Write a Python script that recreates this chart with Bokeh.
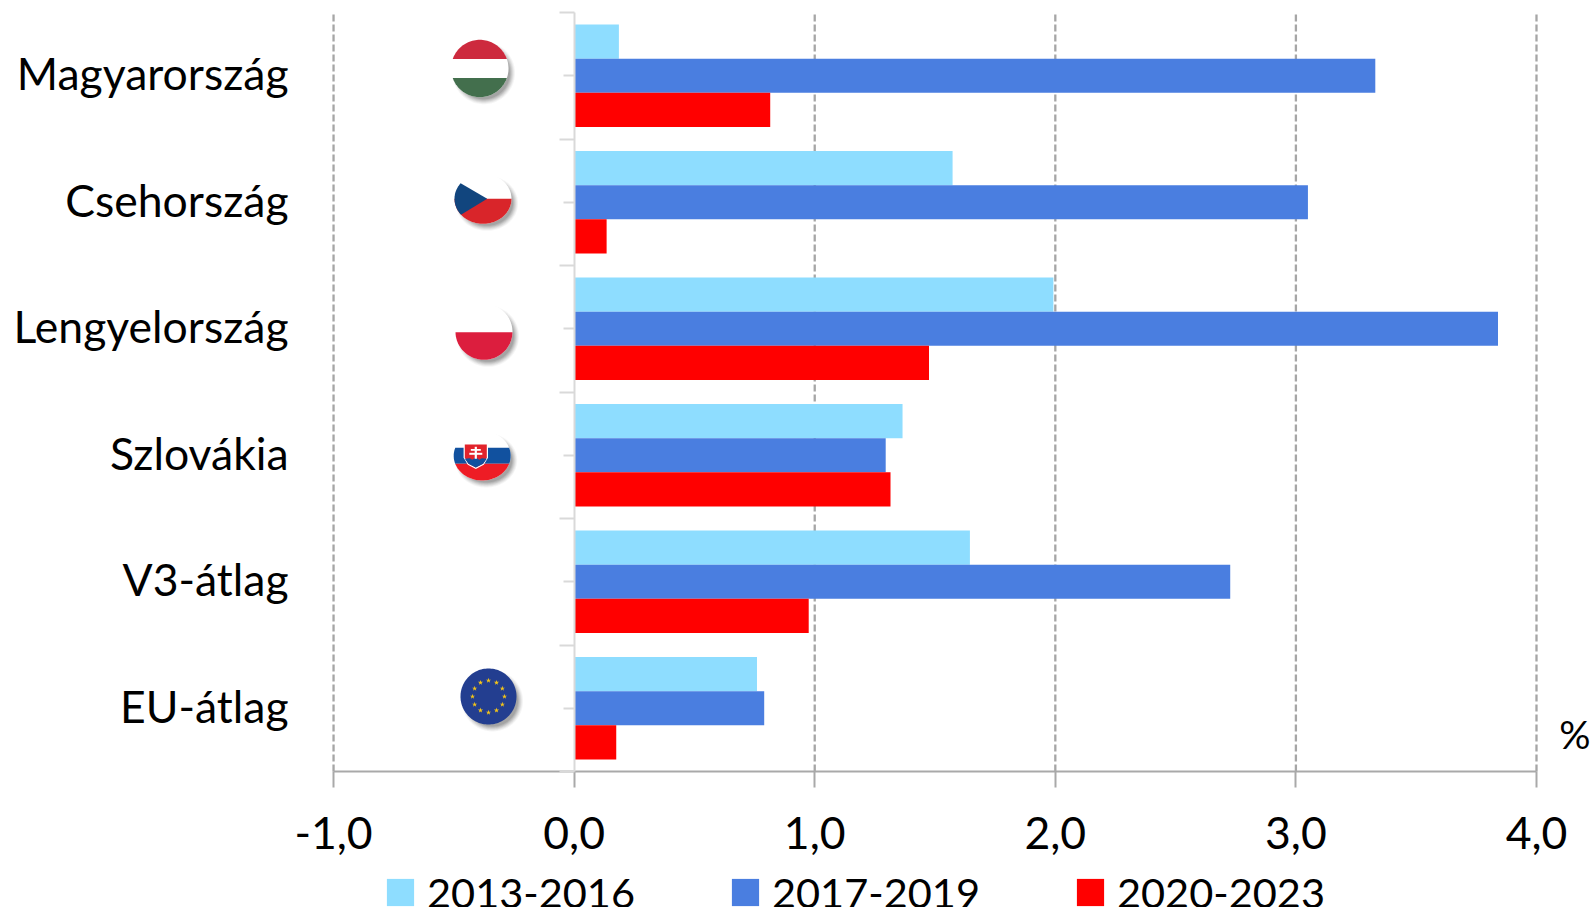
import numpy as np
from bokeh.embed import file_html
from bokeh.resources import INLINE
from bokeh.core.properties import value
from bokeh.models import (ColumnDataSource, FixedTicker, Label, Legend, LegendItem,
                          LinearAxis, Range1d)
from bokeh.plotting import figure

categories = ["Magyarország", "Csehország", "Lengyelország", "Szlovákia", "V3-átlag", "EU-átlag"]
s2013_2016 = [0.186, 1.573, 1.992, 1.365, 1.645, 0.76]
s2017_2019 = [3.33, 3.05, 3.84, 1.295, 2.727, 0.79]
s2020_2023 = [0.815, 0.135, 1.475, 1.315, 0.975, 0.175]
series_names = ["2013-2016", "2017-2019", "2020-2023"]
x_ticks = [-1, 0, 1, 2, 3, 4]
x_tick_labels = ["-1,0", "0,0", "1,0", "2,0", "3,0", "4,0"]
grid_ticks = [-1, 1, 2, 3, 4]

FONT = "Lato"
FS = "44.5px"
C_LIGHT, C_BLUE, C_RED = "#8EDDFF", "#4A7EE0", "#FF0000"
GREY, LIGHT_GREY = "#A9A9A9", "#D9D9D9"

n = len(categories)
centers = [n - 0.5 - i for i in range(n)]

# The frame fills the whole figure so that nothing outside the plot area is clipped.
UX, UY = 240.55, 126.5
p = figure(width=1594, height=907, output_backend="svg", toolbar_location=None,
           x_range=Range1d(-1 - 333 / UX, 4 + 58 / UX), y_range=Range1d(-136 / UY, n + 12 / UY),
           min_border_left=0, min_border_right=0, min_border_top=0, min_border_bottom=0,
           x_axis_location=None, y_axis_location=None,
           outline_line_color=None, background_fill_color="white", border_fill_color="white")
p.grid.visible = False
# page-pixel ranges for the decorative flags
p.extra_x_ranges = {"px": Range1d(0, 1594)}
p.extra_y_ranges = {"py": Range1d(907, 0)}

# dashed gridlines
p.segment(x0=grid_ticks, x1=grid_ticks, y0=[0] * len(grid_ticks), y1=[n] * len(grid_ticks),
          line_color="#A6A6A6", line_width=2.3, line_dash="7 3")

H = 0.27
src = ColumnDataSource(dict(y1=[c + H for c in centers], y2=centers, y3=[c - H for c in centers],
                            a=s2013_2016, b=s2017_2019, c=s2020_2023))
r1 = p.hbar(y="y1", left=0, right="a", height=H, source=src, fill_color=C_LIGHT, line_color=None)
r2 = p.hbar(y="y2", left=0, right="b", height=H, source=src, fill_color=C_BLUE, line_color=None)
r3 = p.hbar(y="y3", left=0, right="c", height=H, source=src, fill_color=C_RED, line_color=None)

# axes
xa = LinearAxis(fixed_location=0, bounds=(-1, 4), ticker=FixedTicker(ticks=x_ticks),
                major_label_overrides={t: l for t, l in zip(x_ticks, x_tick_labels)},
                major_label_text_font=FONT, major_label_text_font_size=FS, major_label_text_color="black",
                major_label_standoff=29, axis_line_color=GREY, axis_line_width=2,
                major_tick_line_color=GREY, major_tick_line_width=2, major_tick_in=0, major_tick_out=16,
                minor_tick_line_color=None)
p.add_layout(xa, "below")

# category names: an axis without line or ticks, fixed at the left end of the value range
label_ticks = [round(c + 3 / UY, 3) for c in centers]
ya = LinearAxis(fixed_location=-1, ticker=FixedTicker(ticks=label_ticks),
                major_label_overrides={c: l for c, l in zip(label_ticks, categories)},
                axis_line_color=None, major_tick_line_color=None, minor_tick_line_color=None,
                major_label_standoff=39, major_label_text_font=FONT, major_label_text_font_size=FS,
                major_label_text_color="black")
p.add_layout(ya, "left")

band_edges = list(range(n + 1))
ax0 = LinearAxis(fixed_location=0, bounds=(0, n),
                 ticker=FixedTicker(ticks=band_edges, minor_ticks=centers),
                 major_label_overrides={e: "" for e in band_edges},
                 axis_line_color=LIGHT_GREY, axis_line_width=2,
                 major_tick_line_color=LIGHT_GREY, major_tick_line_width=2, major_tick_in=0, major_tick_out=15,
                 minor_tick_line_color=LIGHT_GREY, minor_tick_line_width=2, minor_tick_in=0, minor_tick_out=11)
p.add_layout(ax0, "left")


# flags
def ellipse(cx, cy, rx, ry, k=120):
    t = np.linspace(0, 2 * np.pi, k, endpoint=False)
    return list(zip(cx + rx * np.cos(t), cy + ry * np.sin(t)))


def clip(poly, a, b, c):
    """Keep the part of poly where a*x + b*y <= c."""
    out = []
    for i, P in enumerate(poly):
        Q = poly[(i + 1) % len(poly)]
        dp, dq = a * P[0] + b * P[1] - c, a * Q[0] + b * Q[1] - c
        if dp <= 0:
            out.append(P)
        if dp * dq < 0:
            t = dp / (dp - dq)
            out.append((P[0] + t * (Q[0] - P[0]), P[1] + t * (Q[1] - P[1])))
    return out


def band(poly, y0, y1):
    return clip(clip(poly, 0, -1, -y0), 0, 1, y1)


def fill(poly, color):
    p.patch([q[0] for q in poly], [q[1] for q in poly], fill_color=color, line_color=None,
            x_range_name="px", y_range_name="py")


def shadow(cx, cy, rx, ry):
    for k, a in [(5.5, 0.05), (4.5, 0.07), (3.5, 0.09), (2.5, 0.11), (1.5, 0.13), (0.5, 0.15)]:
        fill_poly = ellipse(cx + 4, cy + 4.5, rx + k - 3, ry + k - 3)
        p.patch([q[0] for q in fill_poly], [q[1] for q in fill_poly], fill_color="#404040", fill_alpha=a,
                line_color=None, x_range_name="px", y_range_name="py")


# Hungary
cx, cy, rx, ry = 479.3, 68, 28.7, 28.7
shadow(cx, cy, rx, ry)
e = ellipse(cx, cy, rx, ry)
fill(e, "#FFFFFF")
fill(band(e, 0, 58.5), "#CD2A3E")
fill(band(e, 77.5, 200), "#436F4D")

# Czechia
cx, cy, rx, ry = 482.5, 198.3, 28.5, 25
shadow(cx, cy, rx, ry)
e = ellipse(cx, cy, rx, ry)
fill(e, "#FFFFFF")
fill(band(e, cy, 400), "#D9252A")
ax_, ay_ = 486.7, 198.3
# upper edge: apex to (460, 182.7); lower edge: apex to (460.7, 214)
tri = clip(e, 1, 0, ax_)
tri = clip(tri, 15.6, -26.7, 15.6 * ax_ - 26.7 * ay_)
tri = clip(tri, 15.7, 26.0, 15.7 * ax_ + 26.0 * ay_)
fill(tri, "#11457E")

# Poland
cx, cy, rx, ry = 483.5, 331.3, 28.5, 28
shadow(cx, cy, rx, ry)
e = ellipse(cx, cy, rx, ry)
fill(e, "#FFFFFF")
fill(band(e, 331.7, 500), "#DC1E3E")

# Slovakia
cx, cy, rx, ry = 481.7, 455.3, 28.5, 24.7
shadow(cx, cy, rx, ry)
e = ellipse(cx, cy, rx, ry)
fill(e, "#FFFFFF")
fill(band(e, 447.3, 463.3), "#11519F")
fill(band(e, 463.3, 600), "#EE1C25")
sx, sy = 475.3, 443.3
shield_out = [(sx - 12.2, sy - 0.4), (sx + 12.2, sy - 0.4), (sx + 12.2, sy + 14), (sx + 8, sy + 21), (sx, sy + 25.3),
              (sx - 8, sy + 21), (sx - 12.2, sy + 14)]
shield_in = [(sx - 11, sy + 0.6), (sx + 11, sy + 0.6), (sx + 11, sy + 13.6), (sx + 7.3, sy + 20), (sx, sy + 23.8),
             (sx - 7.3, sy + 20), (sx - 11, sy + 13.6)]
fill(shield_out, "#FFFFFF")
fill(shield_in, "#E2232B")
fill([(sx - 11, sy + 15), (sx - 6, sy + 14.5), (sx - 3.5, sy + 16), (sx, sy + 13.5), (sx + 3.5, sy + 16), (sx + 6, sy + 14.5),
      (sx + 11, sy + 15), (sx + 7.3, sy + 20), (sx, sy + 23.8), (sx - 7.3, sy + 20)], "#11519F")
fill([(sx - 1.1, sy + 3), (sx + 1.1, sy + 3), (sx + 1.1, sy + 15), (sx - 1.1, sy + 15)], "#FFFFFF")
fill([(sx - 5, sy + 5.2), (sx + 5, sy + 5.2), (sx + 5, sy + 7), (sx - 5, sy + 7)], "#FFFFFF")
fill([(sx - 6.5, sy + 9), (sx + 6.5, sy + 9), (sx + 6.5, sy + 11), (sx - 6.5, sy + 11)], "#FFFFFF")

# EU
cx, cy, rx, ry = 488, 696, 28, 28
shadow(cx, cy, rx, ry)
fill(ellipse(cx, cy, rx, ry), "#233E90")
ang = np.arange(12) * np.pi / 6
p.scatter(cx + 16 * np.cos(ang), cy + 16 * np.sin(ang), marker="star", size=5.5, fill_color="#F5C518", line_color=None,
          x_range_name="px", y_range_name="py")

# % label
p.add_layout(Label(x=1574.5, y=733, text="%", x_range_name="px", y_range_name="py", text_align="center",
                   text_baseline="middle", text_font=FONT, text_font_size="39px", text_color="black"))

# legend
legend = Legend(items=[LegendItem(label=value(series_names[0]), renderers=[r1]),
                       LegendItem(label=value(series_names[1]), renderers=[r2]),
                       LegendItem(label=value(series_names[2]), renderers=[r3])],
                orientation="horizontal", location=(383, -10), background_fill_alpha=0, border_line_color=None,
                glyph_width=34, glyph_height=34, label_standoff=10, spacing=93, padding=0, margin=0,
                label_text_font=FONT, label_text_font_size="41.5px", label_text_color="black",
                label_height=27)
p.add_layout(legend, "center")

open("out.html", "w").write(file_html(p, INLINE))
